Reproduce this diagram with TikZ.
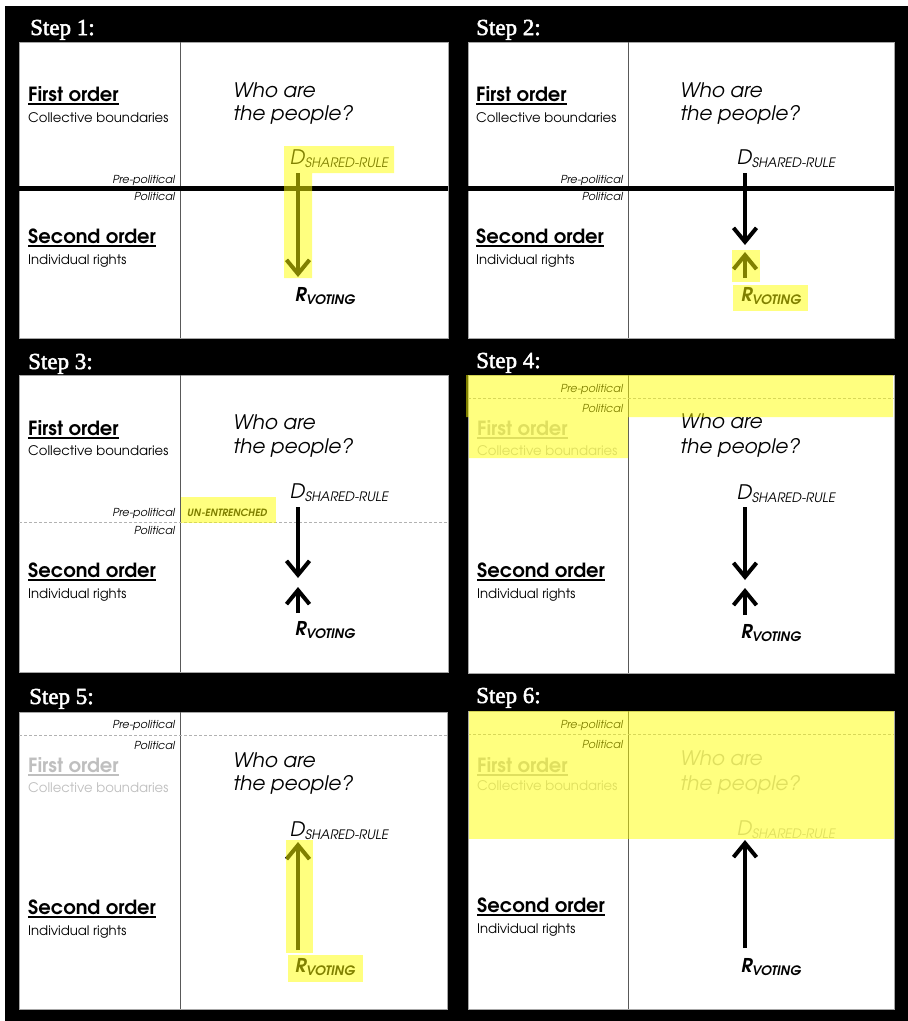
\documentclass[tikz,border=0pt]{standalone}
\usepackage{fontspec}
\setmainfont{TeX Gyre Adventor}
\newfontfamily\stepfont[FakeBold=2.2]{Liberation Serif}
\usetikzlibrary{arrows.meta,calc}
\newcommand\ulbox[1]{\setbox0\hbox{#1}\rlap{\raisebox{-3.5pt}{\rule{\wd0}{1.6pt}}}\box0}
\newcommand\dsub[1]{\raisebox{-3pt}{\fontsize{13}{13}\selectfont #1}}
\definecolor{hl}{rgb}{1,1,0}
\definecolor{faded}{gray}{0.75}
\definecolor{divgray}{gray}{0.35}
\tikzset{
  steplbl/.style={anchor=base west, inner sep=0, text=white, font=\stepfont\fontsize{23}{23}\selectfont},
  panel/.style={fill=white, draw=gray!70, line width=0.8},
  divider/.style={draw=divgray, line width=1},
  ord/.style={anchor=base west, inner sep=0, font=\bfseries\fontsize{19.5}{19.5}\selectfont},
  subt/.style={anchor=base west, inner sep=0, font=\fontsize{13.2}{13.2}\selectfont},
  who/.style={anchor=base west, inner sep=0, font=\itshape\fontsize{20}{20}\selectfont},
  dv/.style={anchor=base west, inner sep=0, font=\itshape\fontsize{20}{20}\selectfont},
  rv/.style={anchor=base west, inner sep=0, font=\bfseries\itshape\fontsize{19}{19}\selectfont},
  pp/.style={anchor=base east, inner sep=0, font=\itshape\fontsize{11}{11}\selectfont},
  unent/.style={anchor=base west, inner sep=0, font=\bfseries\itshape\fontsize{10}{10}\selectfont},
  arr/.style={line width=4, -{Straight Barb[length=14,width=23]}},
  thickline/.style={line width=5},
  dashline/.style={draw=gray!60, line width=0.8, dash pattern=on 3 off 2},
  hlbox/.style={fill=hl, fill opacity=0.5, draw=none},
}
\begin{document}
\begin{tikzpicture}[x=1pt,y=-1pt]
\useasboundingbox (0,0) rectangle (908,1021);
\fill[white] (0,0) rectangle (908,1021);
\fill[black] (5,6) rectangle (908,1021);

\node[steplbl] (s1) at (30,35) {Step 1:};
\node[steplbl] (s2) at (476,35) {Step 2:};
\node[steplbl] (s3) at (28,369) {Step 3:};
\node[steplbl] (s4) at (476,368) {Step 4:};
\node[steplbl] (s5) at (29,704) {Step 5:};
\node[steplbl] (s6) at (476,703) {Step 6:};

% ---------- Step 1
\begin{scope}[shift={(19,42)}]
\path[panel] (0,0) rectangle (429,296);
\draw[divider] (161,0) -- (161,296);
\draw[thickline] (0,146) -- (429,146);
\node[ord] (fo1) at (9,59) {\ulbox{First order}};
\node[subt] (cb1) at (9,80) {Collective boundaries};
\node[pp] (pre1) at (156,141) {Pre-political};
\node[pp] (pol1) at (156,158) {Political};
\node[ord] (so1) at (9,201) {\ulbox{Second order}};
\node[subt] (ir1) at (9,222) {Individual rights};
\node[who] (wa1) at (214,55) {Who are};
\node[who] (tp1) at (214,78) {the people?};
\node[dv] (d1) at (271,122) {D\dsub{SHARED-RULE}};
\node[rv] (r1) at (276,259) {R\dsub{VOTING}};
\draw[arr] ($(d1.base west)+(8,9)$) -- ($(d1.base west |- r1.base)+(8,-24)$);
\fill[hlbox] (265,104) -- (375,104) -- (375,131) -- (293,131) -- (293,236) -- (265,236) -- cycle;
\end{scope}

% ---------- Step 2
\begin{scope}[shift={(468,42)}]
\path[panel] (0,0) rectangle (426,296);
\draw[divider] (160,0) -- (160,296);
\draw[thickline] (0,146) -- (426,146);
\node[ord] (fo2) at (8,59) {\ulbox{First order}};
\node[subt] (cb2) at (8,80) {Collective boundaries};
\node[pp] (pre2) at (155,141) {Pre-political};
\node[pp] (pol2) at (155,158) {Political};
\node[ord] (so2) at (8,201) {\ulbox{Second order}};
\node[subt] (ir2) at (8,222) {Individual rights};
\node[who] (wa2) at (212,55) {Who are};
\node[who] (tp2) at (212,78) {the people?};
\node[dv] (d2) at (269,122) {D\dsub{SHARED-RULE}};
\node[rv] (r2) at (273,259) {R\dsub{VOTING}};
\draw[arr] ($(d2.base west)+(8,9)$) -- ($(d2.base west)+(8,81)$);
\draw[arr] ($(d2.base west |- r2.base)+(8,-23)$) -- ($(d2.base west)+(8,88)$);
\fill[hlbox] (264,208) rectangle (292,240);
\fill[hlbox] (265,243) rectangle (340,269);
\end{scope}

% ---------- Step 3
\begin{scope}[shift={(19,375)}]
\path[panel] (0,0) rectangle (429,297);
\draw[divider] (161,0) -- (161,297);
\draw[dashline] (0,147) -- (429,147);
\node[ord] (fo3) at (9,60) {\ulbox{First order}};
\node[subt] (cb3) at (9,80) {Collective boundaries};
\node[pp] (pre3) at (156,141) {Pre-political};
\node[pp] (pol3) at (156,159) {Political};
\node[unent] (ue3) at (168,141) {UN-ENTRENCHED};
\node[ord] (so3) at (9,202) {\ulbox{Second order}};
\node[subt] (ir3) at (9,223) {Individual rights};
\node[who] (wa3) at (214,54) {Who are};
\node[who] (tp3) at (214,78) {the people?};
\node[dv] (d3) at (271,123) {D\dsub{SHARED-RULE}};
\node[rv] (r3) at (276,260) {R\dsub{VOTING}};
\draw[arr] ($(d3.base west)+(8,9)$) -- ($(d3.base west)+(8,80)$);
\draw[arr] ($(d3.base west |- r3.base)+(8,-22)$) -- ($(d3.base west)+(8,89)$);
\fill[hlbox] (162,122) rectangle (257,148);
\end{scope}

% ---------- Step 4
\begin{scope}[shift={(468,375)}]
\path[panel] (0,0) rectangle (426,298);
\draw[divider] (160,0) -- (160,298);
\draw[dashline] (0,23) -- (426,23);
\node[pp] (pre4) at (155,17) {Pre-political};
\node[pp] (pol4) at (155,37) {Political};
\node[ord, text=faded] (fo4) at (9,60) {\ulbox{First order}};
\node[subt, text=faded] (cb4) at (9,80) {Collective boundaries};
\node[ord] (so4) at (9,202) {\ulbox{Second order}};
\node[subt] (ir4) at (9,223) {Individual rights};
\node[who] (wa4) at (212,53) {Who are};
\node[who] (tp4) at (212,78) {the people?};
\node[dv] (d4) at (269,124) {D\dsub{SHARED-RULE}};
\node[rv] (r4) at (273,263) {R\dsub{VOTING}};
\draw[arr] ($(d4.base west)+(8,8)$) -- ($(d4.base west)+(8,81)$);
\draw[arr] ($(d4.base west |- r4.base)+(8,-23)$) -- ($(d4.base west)+(8,89)$);
\fill[hlbox] (-2,0) -- (425,0) -- (425,42) -- (160,42) -- (160,83) -- (1,83) -- (1,42) -- (-2,42) -- cycle;
\end{scope}

% ---------- Step 5
\begin{scope}[shift={(19,712)}]
\path[panel] (0,0) rectangle (428,297);
\draw[divider] (161,0) -- (161,297);
\draw[dashline] (0,23) -- (428,23);
\node[pp] (pre5) at (156,16) {Pre-political};
\node[pp] (pol5) at (156,37) {Political};
\node[ord, text=faded] (fo5) at (9,60) {\ulbox{First order}};
\node[subt, text=faded] (cb5) at (9,80) {Collective boundaries};
\node[ord] (so5) at (9,202) {\ulbox{Second order}};
\node[subt] (ir5) at (9,223) {Individual rights};
\node[who] (wa5) at (214,55) {Who are};
\node[who] (tp5) at (214,78) {the people?};
\node[dv] (d5) at (271,124) {D\dsub{SHARED-RULE}};
\node[rv] (r5) at (276,260) {R\dsub{VOTING}};
\draw[arr] ($(d5.base west |- r5.base)+(8,-22)$) -- ($(d5.base west)+(8,6)$);
\fill[hlbox] (267,128) rectangle (294,241);
\fill[hlbox] (269,243) rectangle (344,270);
\end{scope}

% ---------- Step 6
\begin{scope}[shift={(468,711)}]
\path[panel] (0,0) rectangle (426,298);
\draw[divider] (160,0) -- (160,298);
\draw[dashline] (0,23) -- (426,23);
\node[pp] (pre6) at (155,17) {Pre-political};
\node[pp] (pol6) at (155,37) {Political};
\node[ord, text=faded] (fo6) at (9,61) {\ulbox{First order}};
\node[subt, text=faded] (cb6) at (9,79) {Collective boundaries};
\node[ord] (so6) at (9,201) {\ulbox{Second order}};
\node[subt] (ir6) at (9,222) {Individual rights};
\node[who, text=faded] (wa6) at (212,54) {Who are};
\node[who, text=faded] (tp6) at (212,79) {the people?};
\node[dv, text=faded] (d6) at (269,124) {D\dsub{SHARED-RULE}};
\node[rv] (r6) at (273,261) {R\dsub{VOTING}};
\draw[arr] ($(d6.base west |- r6.base)+(8,-24)$) -- ($(d6.base west)+(8,5)$);
\fill[hlbox] (1,0) rectangle (426,128);
\end{scope}
\end{tikzpicture}
\end{document}
